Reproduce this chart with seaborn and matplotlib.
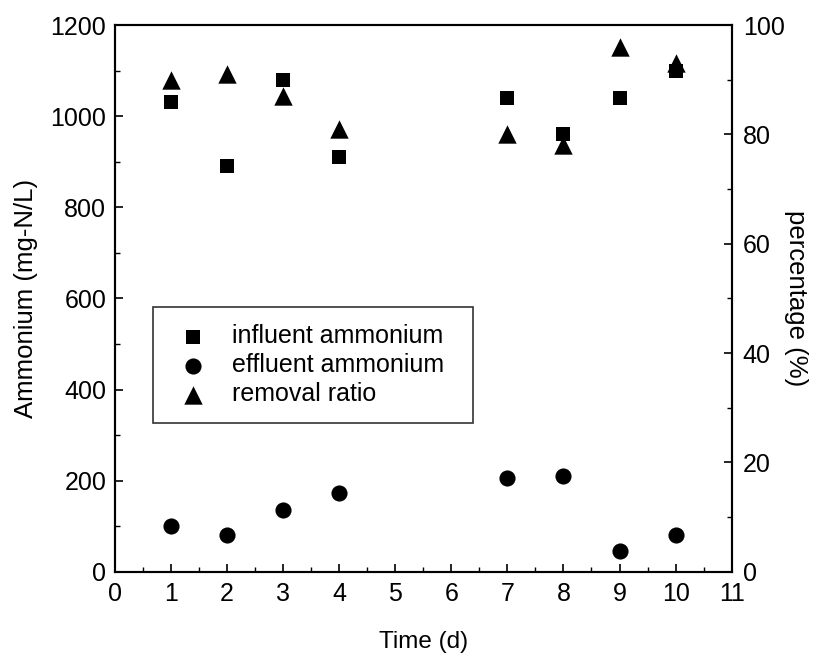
import matplotlib
matplotlib.use("Agg")
import matplotlib.pyplot as plt
import seaborn as sns
import pandas as pd
from matplotlib.ticker import MultipleLocator

days = [1, 2, 3, 4, 7, 8, 9, 10]
influent = [1030, 890, 1080, 910, 1040, 960, 1040, 1100]
effluent = [100, 80, 135, 172, 206, 210, 45, 80]
removal = [90, 91, 87, 81, 80, 78, 96, 93]

df = pd.DataFrame({"day": days, "influent": influent,
                   "effluent": effluent, "removal": removal})

sns.set_style("ticks")
plt.rcParams["font.family"] = ["Liberation Sans", "DejaVu Sans"]
plt.rcParams["xtick.direction"] = "in"
plt.rcParams["ytick.direction"] = "in"
for k in ("text.color", "axes.labelcolor", "xtick.color", "ytick.color",
          "xtick.labelcolor", "ytick.labelcolor"):
    plt.rcParams[k] = "black"

fig = plt.figure(figsize=(8.13, 6.58), dpi=100)
ax = fig.add_axes([0.141, 0.131, 0.759, 0.831])
ax2 = ax.twinx()

sns.scatterplot(data=df, x="day", y="influent", ax=ax, marker="s", s=110,
                color="black", edgecolor="black", linewidth=0,
                label="influent ammonium", legend=False)
sns.scatterplot(data=df, x="day", y="effluent", ax=ax, marker="o", s=135,
                color="black", edgecolor="black", linewidth=0,
                label="effluent ammonium", legend=False)
sns.scatterplot(data=df, x="day", y="removal", ax=ax2, marker="^", s=175,
                color="black", edgecolor="black", linewidth=0,
                label="removal ratio", legend=False)

ax.set_xlim(0, 11)
ax.set_ylim(0, 1200)
ax2.set_ylim(0, 100)

ax.xaxis.set_major_locator(MultipleLocator(1))
ax.xaxis.set_minor_locator(MultipleLocator(0.5))
ax.yaxis.set_major_locator(MultipleLocator(200))
ax.yaxis.set_minor_locator(MultipleLocator(100))
ax2.yaxis.set_major_locator(MultipleLocator(20))
ax2.yaxis.set_minor_locator(MultipleLocator(10))

for a in (ax, ax2):
    a.tick_params(which="major", length=6, width=1.2, labelsize=18, color="black")
    a.tick_params(which="minor", length=3.5, width=1.0, color="black")
    for sp in a.spines.values():
        sp.set_visible(True)
        sp.set_linewidth(1.5)
        sp.set_color("black")

ax.tick_params(axis="x", pad=7)
ax.tick_params(axis="y", pad=6)
ax2.tick_params(axis="y", pad=8)
ax.set_xlabel("Time (d)", fontsize=17.5, labelpad=18)
ax.set_ylabel("Ammonium (mg-N/L)", fontsize=18.5, va="center")
ax.yaxis.set_label_coords(-0.144, 0.5)
ax2.set_ylabel("percentage (%)", fontsize=18.5, rotation=270, va="center")
ax2.yaxis.set_label_coords(1.104, 0.5)

handles = []
labels = []
for a in (ax, ax2):
    h, l = a.get_legend_handles_labels()
    handles += h
    labels += l

leg = ax.legend(handles, labels, loc="upper left",
                bbox_to_anchor=(0.062, 0.0, 0.519, 0.484), mode="expand",
                fontsize=18, frameon=True, fancybox=False, edgecolor="black",
                handletextpad=0.64, borderpad=0.68, labelspacing=0.2,
                handlelength=1.84, borderaxespad=0)
leg.get_frame().set_linewidth(1.2)

fig.savefig("out.png", dpi=100)
